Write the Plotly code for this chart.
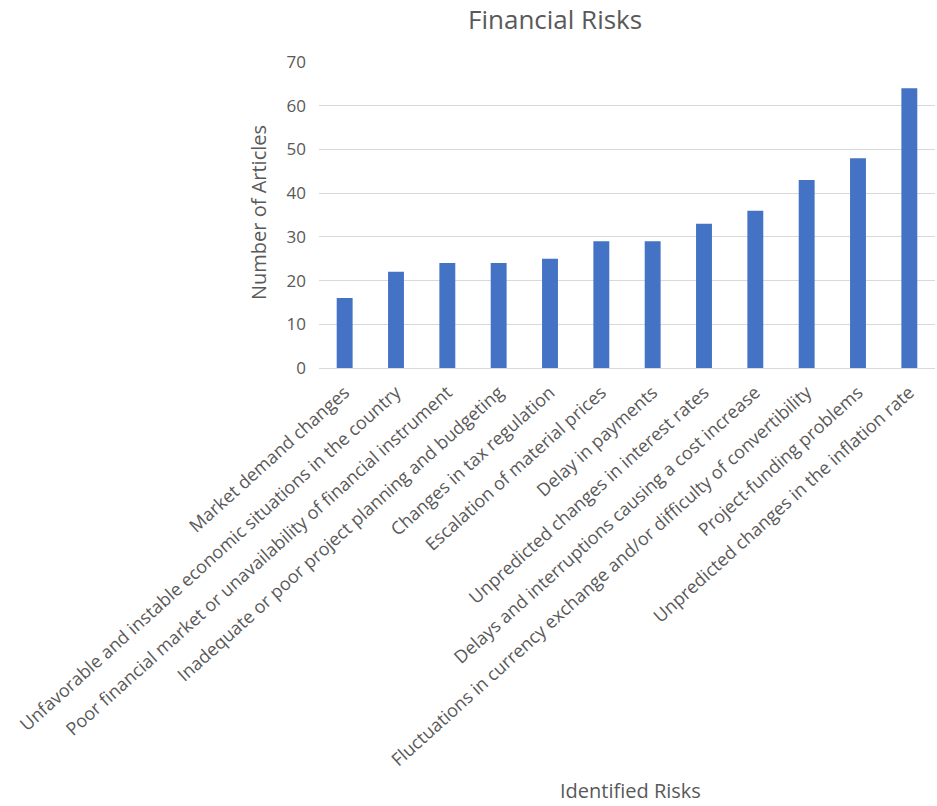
import plotly.graph_objects as go

categories = [
    "Market demand changes",
    "Unfavorable and instable economic situations in the country",
    "Poor financial market or unavailability of financial instrument",
    "Inadequate or poor project planning and budgeting",
    "Changes in tax regulation",
    "Escalation of material prices",
    "Delay in payments",
    "Unpredicted changes in interest rates",
    "Delays and interruptions causing a cost increase",
    "Fluctuations in currency exchange and/or difficulty of convertibility",
    "Project-funding problems",
    "Unpredicted changes in the inflation rate",
]
articles = [16, 22, 24, 24, 25, 29, 29, 33, 36, 43, 48, 64]
y_ticks = [0, 10, 20, 30, 40, 50, 60, 70]

W, H = 937, 806
L, R, T, B = 319, 2, 62, 438
FONT = "Open Sans"
GRAY = "#595959"

fig = go.Figure(go.Bar(
    x=categories, y=articles,
    marker=dict(color="#4472C4", line=dict(width=0)),
))

fig.update_layout(
    width=W, height=H,
    margin=dict(l=L, r=R, t=T, b=B, autoexpand=False),
    paper_bgcolor="white", plot_bgcolor="white",
    bargap=0.69,
    showlegend=False,
    font=dict(family=FONT, color=GRAY, size=15),
    xaxis=dict(
        tickangle=-42, tickfont=dict(size=18, color=GRAY),
        showgrid=False, showline=True, linecolor="#D9D9D9", linewidth=1,
        ticks="", automargin=False, ticklabelstandoff=6,
    ),
    yaxis=dict(
        range=[0, 70], tickvals=y_ticks,
        tickfont=dict(size=17, color=GRAY),
        showgrid=True, gridcolor="#D9D9D9", gridwidth=1,
        zeroline=True, zerolinecolor="#D9D9D9", zerolinewidth=1,
        showline=False, ticks="", ticklabelstandoff=12, automargin=False,
    ),
    annotations=[
        dict(text="Financial Risks", xref="paper", yref="paper",
             x=(555 - L) / (W - L - R), y=1 + (62 - 19) / (H - T - B),
             xanchor="center", yanchor="middle", showarrow=False,
             font=dict(size=26, color=GRAY, family=FONT)),
        dict(text="Number of Articles", xref="paper", yref="paper",
             x=(258 - L) / (W - L - R), y=(368 - 213) / (H - T - B),
             xanchor="center", yanchor="middle", textangle=-90, showarrow=False,
             font=dict(size=20, color=GRAY, family=FONT)),
        dict(text="Identified Risks", xref="paper", yref="paper",
             x=(630 - L) / (W - L - R), y=-(790 - 368) / (H - T - B),
             xanchor="center", yanchor="middle", showarrow=False,
             font=dict(size=20, color=GRAY, family=FONT)),
    ],
)

fig.write_html("out.html")
